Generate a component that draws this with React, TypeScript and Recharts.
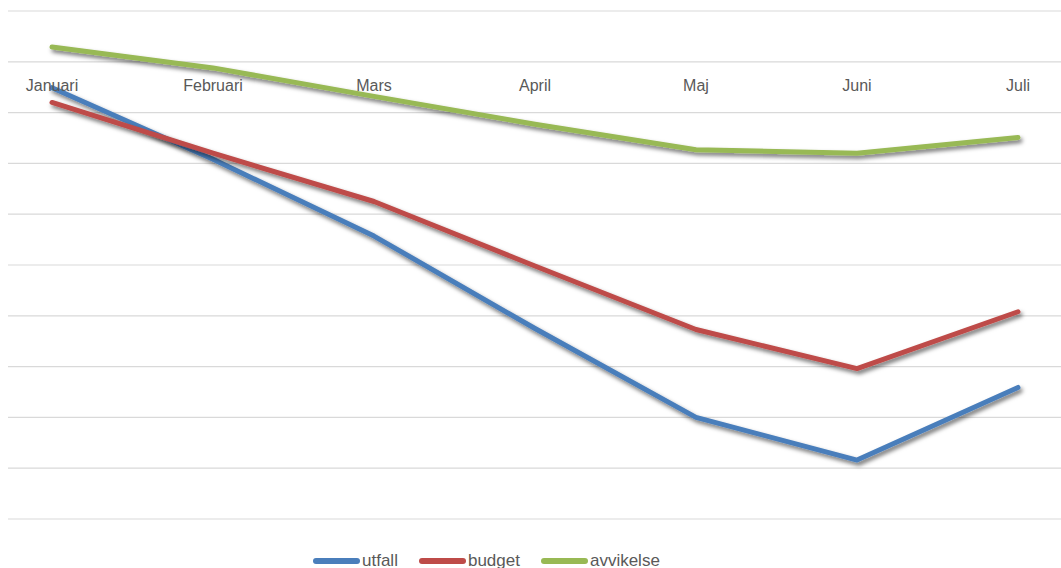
import React from 'react';
import { LineChart, Line, XAxis, YAxis, CartesianGrid, Legend } from 'recharts';

const months = ['Januari', 'Februari', 'Mars', 'April', 'Maj', 'Juni', 'Juli'];
const utfall = [-510, -1920, -3430, -5250, -7000, -7840, -6410];
const budget = [-800, -1800, -2750, -4020, -5270, -6040, -4920];
const avvikelse = [290, -120, -680, -1230, -1730, -1800, -1490];
const yTicks = [-9000, -8000, -7000, -6000, -5000, -4000, -3000, -2000, -1000, 0, 1000];

const Y_MIN = -9000;
const Y_MAX = 1000;
const W = 1061;
const H = 568;
const MARGIN = { top: 11, right: 0, bottom: 27, left: 8 };
const LEGEND_H = 20;
const XAXIS_H = 2;
const PLOT_H = H - MARGIN.top - MARGIN.bottom - LEGEND_H - XAXIS_H;
const ZERO_Y = MARGIN.top + (PLOT_H * Y_MAX) / (Y_MAX - Y_MIN);

const data = months.map((m, i) => ({
  month: m,
  utfall: utfall[i],
  budget: budget[i],
  avvikelse: avvikelse[i],
}));

const series = [
  { key: 'utfall', color: '#4A7EBB' },
  { key: 'budget', color: '#BE4B48' },
  { key: 'avvikelse', color: '#98B954' },
];

const FONT = '"Liberation Sans", Arial, sans-serif';

const renderMonthTick = (props: any) => {
  const { x, payload } = props;
  return (
    <text
      key={payload.value}
      x={x}
      y={ZERO_Y + 24}
      textAnchor="middle"
      dominantBaseline="central"
      fontFamily={FONT}
      fontSize={16}
      fill="#595959"
    >
      {payload.value}
    </text>
  );
};

const LegendContent = () => (
  <div style={{ display: 'flex', alignItems: 'center', height: LEGEND_H, fontFamily: FONT, fontSize: 17, color: '#595959' }}>
    {series.map((s) => (
      <div key={s.key} style={{ display: 'flex', alignItems: 'center', marginRight: 21 }}>
        <span style={{ display: 'inline-block', width: 47, height: 6, borderRadius: 3, background: s.color, marginRight: 2 }} />
        <span>{s.key}</span>
      </div>
    ))}
  </div>
);

export default function App() {
  return (
    <div style={{ position: 'absolute', left: 0, top: 0, width: W, height: H, background: '#fff' }}>
      <LineChart width={W} height={H} data={data} margin={MARGIN}>
        <defs>
          <filter id="shadow" x="-10%" y="-10%" width="120%" height="140%">
            <feDropShadow dx="2" dy="3" stdDeviation="2" floodColor="#000" floodOpacity="0.55" />
          </filter>
        </defs>
        <CartesianGrid horizontal vertical={false} stroke="#d9d9d9" strokeWidth={1.2} />
        <XAxis
          dataKey="month"
          height={XAXIS_H}
          axisLine={false}
          tickLine={false}
          tick={renderMonthTick}
          padding={{ left: 44, right: 43 }}
          interval={0}
        />
        <YAxis hide domain={[Y_MIN, Y_MAX]} ticks={yTicks} type="number" />
        {series.map((s) => (
          <Line
            key={s.key}
            dataKey={s.key}
            type="linear"
            stroke={s.color}
            strokeWidth={5}
            strokeLinecap="round"
            strokeLinejoin="round"
            dot={false}
            activeDot={false}
            isAnimationActive={false}
            filter="url(#shadow)"
          />
        ))}
        <Legend
          verticalAlign="bottom"
          height={LEGEND_H}
          content={<LegendContent />}
          wrapperStyle={{ left: 313, top: 551, bottom: 'auto', width: 'auto' }}
        />
      </LineChart>
    </div>
  );
}
